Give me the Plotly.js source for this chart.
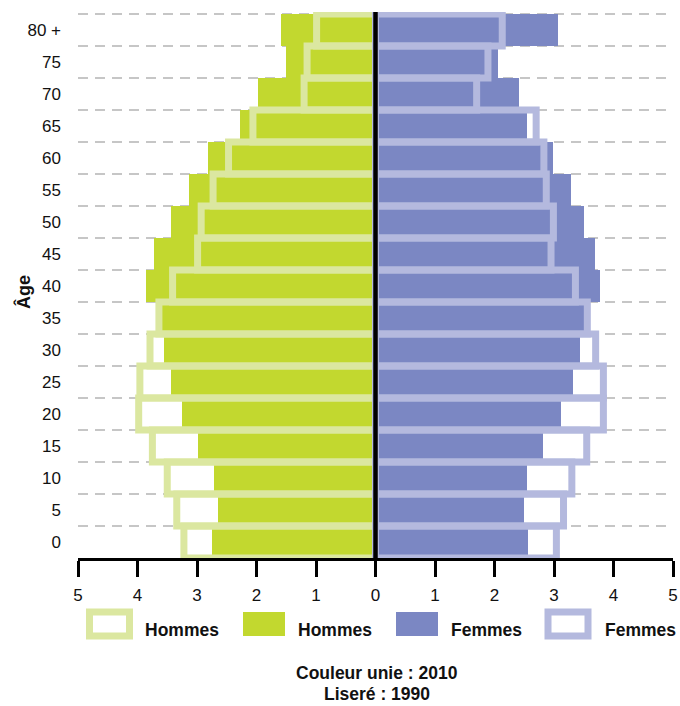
<!DOCTYPE html>
<html>
<head>
<meta charset="utf-8">
<script src="https://cdn.plot.ly/plotly-3.0.1.min.js"></script>
<style>
  html, body { margin: 0; padding: 0; background: #ffffff; }
  #chart { width: 680px; height: 706px; }
</style>
</head>
<body>
<div id="chart"></div>
<script>
// Age groups (bottom to top)
const ageLabels = ['0', '5', '10', '15', '20', '25', '30', '35', '40', '45', '50', '55', '60', '65', '70', '75', '80 +'];
// Percent of population, 2010 (solid colour)
const men2010   = [2.74, 2.65, 2.72, 2.98, 3.26, 3.43, 3.55, 3.58, 3.85, 3.72, 3.43, 3.14, 2.81, 2.28, 1.98, 1.51, 1.59];
const women2010 = [2.57, 2.50, 2.55, 2.81, 3.11, 3.32, 3.43, 3.52, 3.77, 3.69, 3.50, 3.28, 2.99, 2.54, 2.42, 2.06, 3.07];
// Percent of population, 1990 (outline)
const men1990   = [3.22, 3.34, 3.50, 3.75, 3.98, 3.96, 3.79, 3.64, 3.41, 2.99, 2.93, 2.73, 2.47, 2.06, 1.20, 1.15, 0.99];
const women1990 = [3.04, 3.16, 3.30, 3.55, 3.83, 3.83, 3.70, 3.56, 3.36, 2.95, 2.99, 2.87, 2.83, 2.70, 1.70, 1.89, 2.13];
// X tick values / labels
const xTickVals = [-5, -4, -3, -2, -1, 0, 1, 2, 3, 4, 5];
const xTickText = ['5', '4', '3', '2', '1', '0', '1', '2', '3', '4', '5'];
// Legend entries
const legendLabels = ['Hommes', 'Hommes', 'Femmes', 'Femmes'];
const noteLines = ['Couleur unie : 2010', 'Liseré : 1990'];

const GREEN = '#c2d82f', GREEN_L = '#dbe7a0';
const PURPLE = '#7b87c3', PURPLE_L = '#b4b9de';
const FONT = 'Liberation Sans, Arial, sans-serif';

const idx = ageLabels.map((_, i) => i);
const bounds = idx.map(i => i - 0.5).concat([ageLabels.length - 0.5]);
const yTop = ageLabels.length - 0.5 + 0.06;

const traces = [
  { type: 'bar', orientation: 'h', name: 'Hommes 2010', y: idx, x: men2010.map(v => -v),
    width: 1, marker: { color: GREEN, line: { width: 0 } }, cliponaxis: false, hoverinfo: 'skip' },
  { type: 'bar', orientation: 'h', name: 'Femmes 2010', y: idx, x: women2010,
    width: 1, marker: { color: PURPLE, line: { width: 0 } }, cliponaxis: false, hoverinfo: 'skip' },
  { type: 'bar', orientation: 'h', name: 'Hommes 1990', y: idx, x: men1990.map(v => -v),
    width: 1, marker: { color: 'rgba(0,0,0,0)', line: { width: 7, color: GREEN_L } }, cliponaxis: false, hoverinfo: 'skip' },
  { type: 'bar', orientation: 'h', name: 'Femmes 1990', y: idx, x: women1990,
    width: 1, marker: { color: 'rgba(0,0,0,0)', line: { width: 7, color: PURPLE_L } }, cliponaxis: false, hoverinfo: 'skip' }
];

const L = 78, R = 7, T = 12, B = 148, W = 680, H = 706;
const pw = W - L - R, ph = H - T - B;
const px = x => (x - L) / pw;
const py = y => (H - B - y) / ph;

const shapes = [
  { type: 'line', xref: 'x', yref: 'y', x0: 0, x1: 0, y0: -0.5, y1: yTop,
    line: { color: '#000000', width: 4.5 }, layer: 'above' }
];
const boxCx = [109.5, 264, 417, 568];
const boxStyle = [
  { fill: '#ffffff', line: GREEN_L, lw: 7 },
  { fill: GREEN, line: GREEN, lw: 0 },
  { fill: PURPLE, line: PURPLE, lw: 0 },
  { fill: '#ffffff', line: PURPLE_L, lw: 7 }
];
const textX = [143, 296, 449, 603];
const annotations = [];
boxCx.forEach((cx, i) => {
  const s = boxStyle[i];
  const w = s.lw ? 40 : 42, h = 24;
  shapes.push({ type: 'rect', xref: 'paper', yref: 'paper',
    x0: px(cx - w / 2), x1: px(cx + w / 2), y0: py(624 + h / 2), y1: py(624 - h / 2),
    fillcolor: s.fill, line: { color: s.line, width: s.lw } });
  annotations.push({ xref: 'paper', yref: 'paper', x: px(textX[i]), y: py(630),
    xanchor: 'left', yanchor: 'middle', showarrow: false, text: '<b>' + legendLabels[i] + '</b>',
    font: { family: FONT, size: 17.5, color: '#111111' } });
});
annotations.push({ xref: 'paper', yref: 'paper', x: px(377), y: py(673), xanchor: 'center', yanchor: 'middle',
  showarrow: false, text: '<b>' + noteLines[0] + '</b>', font: { family: FONT, size: 17.5, color: '#111111' } });
annotations.push({ xref: 'paper', yref: 'paper', x: px(377), y: py(694), xanchor: 'center', yanchor: 'middle',
  showarrow: false, text: '<b>' + noteLines[1] + '</b>', font: { family: FONT, size: 17.5, color: '#111111' } });
annotations.push({ xref: 'paper', yref: 'paper', x: px(23), y: py(292), xanchor: 'center', yanchor: 'middle',
  textangle: -90, showarrow: false, text: '<b>Âge</b>', font: { family: FONT, size: 18, color: '#111111' } });

const layout = {
  width: W, height: H,
  margin: { l: L, r: R, t: T, b: B, pad: 0 },
  paper_bgcolor: '#ffffff', plot_bgcolor: '#ffffff',
  barmode: 'overlay', bargap: 0,
  showlegend: false,
  font: { family: FONT, color: '#111111' },
  xaxis: {
    range: [-5, 5], tickmode: 'array', tickvals: xTickVals, ticktext: xTickText,
    showgrid: false, zeroline: false, showline: true, linecolor: '#000000', linewidth: 3,
    ticks: 'outside', ticklen: 16, tickwidth: 3, tickcolor: '#000000',
    tickfont: { family: FONT, size: 17, color: '#111111' }, ticklabelstandoff: 4, fixedrange: true
  },
  yaxis: {
    range: [-0.5, yTop], tickmode: 'array', tickvals: idx, ticktext: ageLabels,
    showgrid: false, zeroline: false, showline: false, ticks: '',
    tickfont: { family: FONT, size: 17, color: '#111111' }, ticklabelstandoff: 16,
    minor: { tickmode: 'array', tickvals: bounds, showgrid: true, gridcolor: '#c6c6c6', gridwidth: 1.5,
      griddash: '10px,7px', ticks: '' },
    fixedrange: true
  },
  shapes: shapes,
  annotations: annotations
};

Plotly.newPlot('chart', traces, layout, { displayModeBar: false, staticPlot: true });
</script>
</body>
</html>
